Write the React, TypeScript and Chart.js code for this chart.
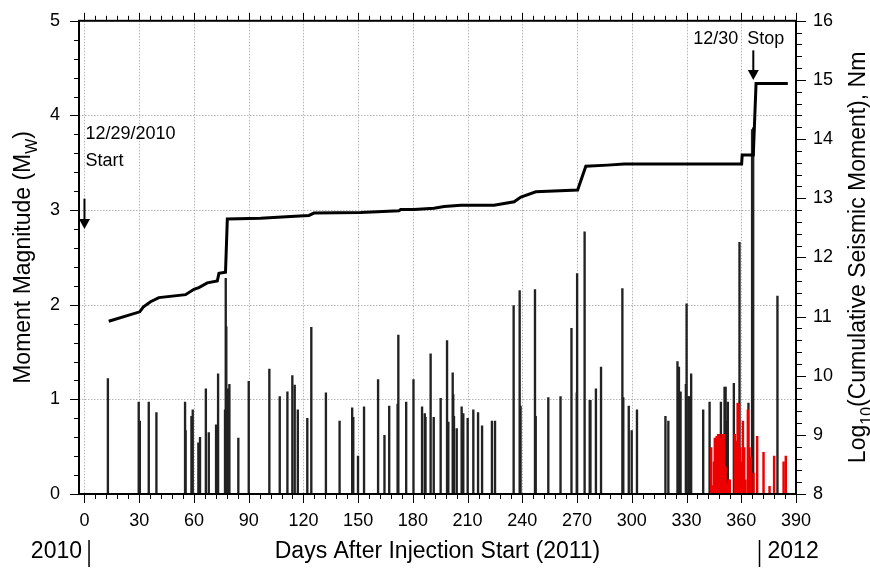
import React, { useEffect, useRef } from "react";
import { Chart, registerables } from "chart.js";

Chart.register(...registerables);

// ---------- data ----------
const xTickValues = [0, 30, 60, 90, 120, 150, 180, 210, 240, 270, 300, 330, 360, 390];
const magnitudeTicks = [0, 1, 2, 3, 4, 5];
const logMomentTicks = [8, 9, 10, 11, 12, 13, 14, 15, 16];

const cumulativeDays = [13.3, 30.3, 32.2, 36.2, 40.8, 55.4, 60.0, 62.7, 67.3, 72.8, 73.7, 77.3, 78.3, 96.5, 113, 123, 125.8, 151.4, 172.4, 173.3, 180.6, 191.6, 197.1, 206.3, 224.5, 235.5, 239.2, 247.4, 270.3, 274.8, 286.7, 295.8, 360.2, 360.5, 366.6, 368.1, 385.5];
const cumulativeLogMoment = [10.92, 11.08, 11.16, 11.25, 11.32, 11.37, 11.46, 11.49, 11.57, 11.6, 11.73, 11.75, 12.65, 12.66, 12.69, 12.71, 12.75, 12.76, 12.79, 12.81, 12.81, 12.83, 12.86, 12.88, 12.88, 12.94, 13.02, 13.11, 13.14, 13.54, 13.56, 13.58, 13.58, 13.73, 13.73, 14.94, 14.94];

const eventDays = [13.3, 30.2, 30.8, 35.7, 39.9, 55.6, 55.9, 59.1, 59.8, 62.9, 63.8, 67.0, 68.6, 72.6, 73.7, 77.5, 77.9, 78.2, 79.0, 79.9, 84.8, 90.5, 101.8, 107.5, 111.7, 114.4, 115.7, 117.4, 122.6, 124.8, 132.8, 140.3, 147.2, 147.8, 150.4, 153.7, 161.4, 164.9, 167.5, 172.1, 172.5, 176.8, 180.8, 185.5, 187.0, 187.4, 190.2, 191.9, 195.7, 199.2, 199.9, 202.3, 202.6, 203.0, 204.5, 207.2, 207.7, 208.1, 210.5, 213.6, 216.2, 218.4, 223.8, 225.5, 235.7, 239.0, 239.5, 247.4, 247.8, 254.7, 261.4, 267.4, 270.3, 270.5, 274.6, 277.4, 277.8, 280.8, 283.6, 295.3, 295.8, 298.8, 300.4, 303.3, 318.9, 320.5, 325.5, 326.3, 327.2, 330.1, 330.5, 331.5, 332.0, 333.0, 339.6, 343.1, 349.3, 349.6, 351.3, 351.9, 352.5, 353.1, 356.4, 359.5, 364.4, 366.4, 367.0, 380.3];
const eventMagnitudes = [1.22, 0.97, 0.77, 0.97, 0.86, 0.97, 0.67, 0.82, 0.89, 0.54, 0.6, 1.11, 0.65, 0.73, 1.27, 0.89, 2.28, 1.77, 1.11, 1.16, 0.59, 1.19, 1.32, 1.03, 1.08, 1.25, 1.15, 0.89, 0.8, 1.76, 1.07, 0.77, 0.91, 0.81, 0.4, 0.92, 1.21, 0.62, 0.93, 0.95, 1.68, 0.97, 1.21, 0.92, 0.85, 0.81, 1.48, 0.81, 1.01, 1.62, 0.76, 1.28, 1.05, 0.82, 0.69, 0.92, 0.57, 0.85, 0.8, 0.89, 0.86, 0.72, 0.77, 0.77, 1.99, 2.15, 0.93, 2.16, 0.82, 1.02, 1.03, 1.75, 1.07, 2.33, 2.77, 0.99, 0.99, 1.11, 1.34, 2.17, 1.02, 0.93, 0.67, 0.89, 0.82, 0.77, 1.4, 1.34, 1.08, 1.16, 2.01, 1.03, 1.03, 1.27, 0.89, 0.97, 0.97, 0.63, 1.13, 1.13, 0.77, 0.97, 1.17, 2.66, 0.96, 3.85, 3.87, 2.09];

const lateEventDays = [344.0, 344.8, 345.5, 346.0, 347.0, 347.8, 348.6, 349.3, 350.2, 351.0, 351.9, 352.8, 353.7, 354.2, 357.0, 357.7, 358.5, 359.2, 359.9, 360.7, 361.4, 362.1, 362.8, 364.1, 365.0, 365.8, 367.2, 369.2, 372.7, 376.0, 378.5, 383.7, 384.9];
const lateEventMagnitudes = [0.49, 0.09, 0.34, 0.59, 0.61, 0.63, 0.63, 0.59, 0.63, 0.63, 0.29, 0.11, 0.15, 0.15, 0.63, 0.56, 0.96, 0.95, 0.49, 0.34, 0.77, 0.49, 0.15, 0.89, 0.49, 0.39, 0.22, 0.61, 0.44, 0.08, 0.4, 0.34, 0.4];

const FONT = "'Liberation Sans', Arial, Helvetica, sans-serif";

function drawRotatedWithSub(ctx: CanvasRenderingContext2D, cx: number, cy: number, parts: { t: string; sub?: boolean }[], size: number) {
  const subSize = Math.round(size * 0.7);
  ctx.save();
  ctx.translate(cx, cy);
  ctx.rotate(-Math.PI / 2);
  let total = 0;
  const widths = parts.map((p) => {
    ctx.font = `${p.sub ? subSize : size}px ${FONT}`;
    const w = ctx.measureText(p.t).width;
    total += w;
    return w;
  });
  let x = -total / 2;
  const base = size * 0.36;
  ctx.fillStyle = "#000";
  ctx.textBaseline = "alphabetic";
  ctx.textAlign = "left";
  parts.forEach((p, i) => {
    ctx.font = `${p.sub ? subSize : size}px ${FONT}`;
    ctx.fillText(p.t, x, p.sub ? base + size * 0.28 : base);
    x += widths[i];
  });
  ctx.restore();
}

function drawDownArrow(ctx: CanvasRenderingContext2D, x: number, y0: number, y1: number) {
  ctx.save();
  ctx.strokeStyle = "#000";
  ctx.fillStyle = "#000";
  ctx.lineWidth = 2;
  ctx.beginPath();
  ctx.moveTo(x, y0);
  ctx.lineTo(x, y1 - 6);
  ctx.stroke();
  ctx.beginPath();
  ctx.moveTo(x - 5.5, y1 - 10);
  ctx.lineTo(x + 5.5, y1 - 10);
  ctx.lineTo(x, y1);
  ctx.closePath();
  ctx.fill();
  ctx.restore();
}

const decorPlugin = {
  id: "decor",
  beforeDatasetsDraw(chart: any) {
    const { ctx, chartArea: a, scales } = chart;
    const xs = scales.x;
    const ys = scales.y;
    ctx.save();
    ctx.strokeStyle = "#b4b4b4";
    ctx.lineWidth = 1;
    ctx.setLineDash([1.5, 1.5]);
    for (let d = 0; d < 390; d += 30) {
      const px = Math.round(xs.getPixelForValue(d)) + 0.5;
      ctx.beginPath();
      ctx.moveTo(px, a.top);
      ctx.lineTo(px, a.bottom);
      ctx.stroke();
    }
    for (let m = 1; m < 5; m++) {
      const py = Math.round(ys.getPixelForValue(m)) + 0.5;
      ctx.beginPath();
      ctx.moveTo(a.left, py);
      ctx.lineTo(a.right, py);
      ctx.stroke();
    }
    ctx.restore();
  },
  afterDatasetsDraw(chart: any) {
    const { ctx, chartArea: a, scales } = chart;
    const xs = scales.x;
    const ys = scales.y;
    const y1 = scales.y1;
    ctx.save();
    ctx.strokeStyle = "#000";
    ctx.lineWidth = 1;
    for (let d = 0; d <= 390; d += 6) {
      const major = d % 30 === 0;
      const px = Math.round(xs.getPixelForValue(d)) + 0.5;
      ctx.beginPath();
      ctx.moveTo(px, a.bottom);
      ctx.lineTo(px, a.bottom + (major ? 9 : 5));
      ctx.moveTo(px, a.top);
      ctx.lineTo(px, a.top - (major ? 8 : 5));
      ctx.stroke();
    }
    for (let k = 0; k <= 25; k++) {
      const major = k % 5 === 0;
      const py = Math.round(ys.getPixelForValue(k * 0.2)) + 0.5;
      ctx.beginPath();
      ctx.moveTo(a.left - (major ? 9 : 5), py);
      ctx.lineTo(a.left, py);
      ctx.stroke();
    }
    for (let k = 0; k <= 40; k++) {
      const major = k % 5 === 0;
      const py = Math.round(y1.getPixelForValue(8 + k * 0.2)) + 0.5;
      ctx.beginPath();
      ctx.moveTo(a.right, py);
      ctx.lineTo(a.right + (major ? 10 : 6), py);
      ctx.stroke();
    }
    ctx.lineWidth = 2;
    ctx.strokeRect(a.left, a.top, a.right - a.left, a.bottom - a.top);
    ctx.restore();

    const x0 = xs.getPixelForValue(0);
    drawDownArrow(ctx, x0, ys.getPixelForValue(3.12), ys.getPixelForValue(2.8));
    const xStop = xs.getPixelForValue(366.6);
    drawDownArrow(ctx, xStop, y1.getPixelForValue(15.5), y1.getPixelForValue(15.0));

    ctx.save();
    ctx.fillStyle = "#000";
    ctx.font = `18px ${FONT}`;
    ctx.textBaseline = "middle";
    ctx.textAlign = "left";
    ctx.fillText("12/29/2010", x0 + 1, ys.getPixelForValue(3.8));
    ctx.fillText("Start", x0 + 1, ys.getPixelForValue(3.52));
    ctx.fillText("12/30", xs.getPixelForValue(333.7), y1.getPixelForValue(15.7));
    ctx.fillText("Stop", xs.getPixelForValue(363.3), y1.getPixelForValue(15.7));

    ctx.font = `23px ${FONT}`;
    ctx.textAlign = "center";
    ctx.fillText("Days After Injection Start (2011)", (a.left + a.right) / 2, 552);
    const sep2010 = xs.getPixelForValue(2.5);
    const sep2012 = xs.getPixelForValue(370);
    ctx.textAlign = "right";
    ctx.fillText("2010", sep2010 - 7, 552);
    ctx.textAlign = "left";
    ctx.fillText("2012", sep2012 + 8, 552);
    ctx.strokeStyle = "#000";
    ctx.lineWidth = 1.5;
    ctx.beginPath();
    ctx.moveTo(sep2010, 540);
    ctx.lineTo(sep2010, 567);
    ctx.moveTo(sep2012, 540);
    ctx.lineTo(sep2012, 567);
    ctx.stroke();
    ctx.restore();

    drawRotatedWithSub(ctx, 22, (a.top + a.bottom) / 2, [{ t: "Moment Magnitude (M" }, { t: "W", sub: true }, { t: ")" }], 23);
    drawRotatedWithSub(ctx, 857, (a.top + a.bottom) / 2, [{ t: "Log" }, { t: "10", sub: true }, { t: "(Cumulative Seismic Moment), Nm" }], 23);
  },
};

export default function App() {
  const canvasRef = useRef<HTMLCanvasElement | null>(null);

  useEffect(() => {
    if (!canvasRef.current) return;
    const tickFont = { family: FONT, size: 18 };
    const chart = new Chart(canvasRef.current, {
      type: "bar",
      data: {
        datasets: [
          {
            type: "line",
            label: "Cumulative moment",
            data: cumulativeDays.map((d, i) => ({ x: d, y: cumulativeLogMoment[i] })),
            xAxisID: "x",
            yAxisID: "y1",
            borderColor: "#000",
            borderWidth: 3,
            pointRadius: 0,
            tension: 0,
            fill: false,
          } as any,
          {
            type: "bar",
            label: "Late events",
            data: lateEventDays.map((d, i) => ({ x: d, y: lateEventMagnitudes[i] })),
            xAxisID: "x",
            yAxisID: "y",
            backgroundColor: "rgb(238,0,0)",
            borderWidth: 0,
            barThickness: 1.8,
            stack: "ev",
          } as any,
          {
            type: "bar",
            label: "Events",
            data: eventDays.map((d, i) => ({ x: d, y: eventMagnitudes[i] })),
            xAxisID: "x",
            yAxisID: "y",
            backgroundColor: "#222222",
            borderWidth: 0,
            barThickness: 1.7,
            stack: "ev",
          } as any,
        ],
      },
      options: {
        responsive: false,
        animation: false,
        layout: { padding: { top: 16, left: 0, right: 0, bottom: 0 } },
        plugins: { legend: { display: false }, tooltip: { enabled: false } },
        scales: {
          x: {
            type: "linear",
            position: "bottom",
            min: -3,
            max: 390,
            offset: false,
            stacked: false,
            grid: { display: false, drawTicks: true, tickLength: 9, offset: false },
            border: { display: false },
            ticks: { font: tickFont, color: "#000", padding: 7, maxRotation: 0, autoSkip: false },
            afterBuildTicks: (s: any) => {
              s.ticks = xTickValues.map((v) => ({ value: v }));
            },
            afterFit: (s: any) => {
              s.height = 74;
            },
          },
          y: {
            type: "linear",
            position: "left",
            min: 0,
            max: 5,
            stacked: false,
            grid: { display: false, drawTicks: true, tickLength: 9 },
            border: { display: false },
            ticks: { font: tickFont, color: "#000", padding: 10 },
            afterBuildTicks: (s: any) => {
              s.ticks = magnitudeTicks.map((v) => ({ value: v }));
            },
            afterFit: (s: any) => {
              s.width = 79;
            },
          },
          y1: {
            type: "linear",
            position: "right",
            min: 8,
            max: 16,
            grid: { display: false, drawTicks: true, tickLength: 10 },
            border: { display: false },
            ticks: { font: tickFont, color: "#000", padding: 7 },
            afterBuildTicks: (s: any) => {
              s.ticks = logMomentTicks.map((v) => ({ value: v }));
            },
            afterFit: (s: any) => {
              s.width = 74;
            },
          },
        },
      } as any,
      plugins: [decorPlugin],
    });
    return () => chart.destroy();
  }, []);

  return (
    <div style={{ position: "fixed", left: 0, top: 0, width: 870, height: 568, background: "#fff" }}>
      <canvas ref={canvasRef} width={870} height={568} style={{ display: "block" }} />
    </div>
  );
}
